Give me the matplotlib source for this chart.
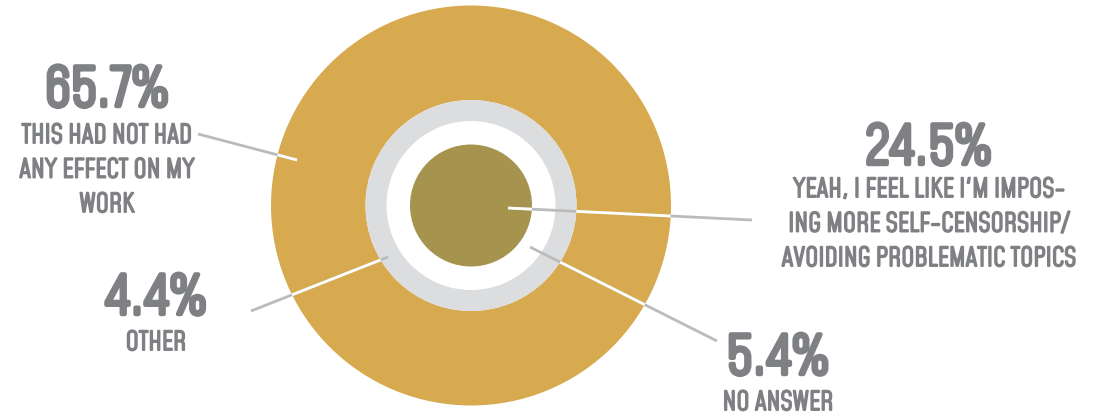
import matplotlib
matplotlib.use('Agg')
import matplotlib.pyplot as plt
import matplotlib.patheffects as pe
from matplotlib.patches import Circle, Wedge

# survey answers
values = [65.7, 24.5, 5.4, 4.4]
pct_labels = ['65.7%', '24.5%', '5.4%', '4.4%']
answers = [['THIS HAD NOT HAD', 'ANY EFFECT ON MY', 'WORK'],
           ["YEAH, I FEEL LIKE I'M IMPOS-", 'ING MORE SELF-CENSORSHIP/', 'AVOIDING PROBLEMATIC TOPICS'],
           ['NO ANSWER'],
           ['OTHER']]

GOLD = '#D7AA4F'
OLIVE = '#A6934E'
RING = '#DCDDDF'
LINE = '#BBBBBB'
TXT = '#7E8083'
FONT = ['Mohave', 'Antonio', 'DejaVu Sans']

fig = plt.figure(figsize=(11.01, 4.19), dpi=100)
ax = fig.add_axes([0, 0, 1, 1])
ax.set_xlim(0, 1101)
ax.set_ylim(419, 0)
ax.set_aspect('equal')
ax.axis('off')

cx, cy = 471, 205.5
# ring radii in px (outer gold, grey ring, white gap, olive core)
r_out, r_grey, r_white, r_core = 200, 105.5, 84.5, 61

gold = Wedge((cx, cy), r_out, 0, 360, width=r_out - r_grey, color=GOLD, lw=0, zorder=1)
ax.add_patch(gold)
ax.add_patch(Wedge((cx, cy), r_grey, 0, 360, width=r_grey - r_white, color=RING, lw=0, zorder=1))
core = Circle((cx, cy), r_core, color=OLIVE, lw=0, zorder=2)
ax.add_patch(core)

# leader lines: (start on chart, end at label)
leaders = [((297, 160), (198, 134)),
           ((508, 208), (752, 220)),
           ((530, 247), (717, 341)),
           ((388, 257), (251, 311))]
for (x0, y0), (x1, y1) in leaders:
    ax.plot([x0, x1], [y0, y1], color=LINE, lw=2, solid_capstyle='butt', zorder=5)
    for clip in (gold, core):
        ln, = ax.plot([x0, x1], [y0, y1], color='white', lw=2, solid_capstyle='butt', zorder=6)
        ln.set_clip_path(clip)

# thicken the light condensed face
big_fx = [pe.withStroke(linewidth=3.2, foreground=TXT)]
small_fx = [pe.withStroke(linewidth=1.4, foreground=TXT)]

# label blocks: (x center, percent baseline, first answer line baseline)
label_pos = [(107, 106, 143),
             (929, 164, 197),
             (778, 374, 410),
             (156, 314, 350)]
for pct, ans, (x, yb, ya) in zip(pct_labels, answers, label_pos):
    ax.text(x, yb, pct, ha='center', va='baseline', fontsize=38, fontweight='bold',
            color=TXT, family=FONT, path_effects=big_fx)
    for i, line in enumerate(ans):
        ax.text(x, ya + i * 34.5, line, ha='center', va='baseline', fontsize=18.5,
                fontweight='bold', color=TXT, family=FONT, path_effects=small_fx)

fig.savefig('out.png', dpi=100)
